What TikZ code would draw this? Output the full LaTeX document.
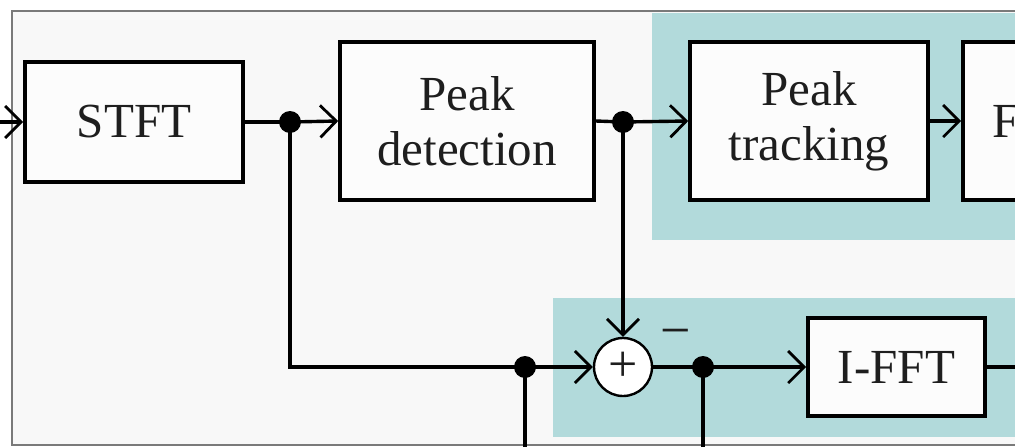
\documentclass[tikz,border=0pt]{standalone}
\usepackage{fontspec}
\setmainfont{Liberation Serif}
\usetikzlibrary{arrows.meta,calc}
\definecolor{panel}{HTML}{F8F8F8}
\definecolor{stage}{HTML}{B2DADB}
\definecolor{frame}{HTML}{7A7A7A}
\definecolor{ink}{HTML}{1E1E1E}
\tikzset{
  blk/.style={draw=black, line width=3.6pt, fill=white!60!panel, text=ink,
    font=\fontsize{49}{55}\selectfont, align=center, inner sep=0pt},
  flow/.style={line width=3.4pt, draw=black},
  arr/.style={flow, -{Straight Barb[length=16pt,width=32pt,line width=2.8pt]}},
  junction/.style={circle, fill=black, inner sep=0pt, minimum size=22pt},
  adder/.style={circle, draw=black, line width=2.4pt, fill=white, minimum size=58pt,
    inner sep=0pt, text=ink, font=\fontsize{52}{52}\selectfont},
}
\begin{document}
\begin{tikzpicture}[x=1pt, y=-1pt]
  \useasboundingbox (0,0) rectangle (1015,447);
  \clip (0,0) rectangle (1015,447);

  % sheet and frame
  \fill[white] (0,0) rectangle (1015,447);
  \fill[panel] (12,11) rectangle (1030,445);
  \draw[frame, line width=1.6pt] (1030,11) -- (12,11) -- (12,445) -- (1030,445);

  % shaded stages
  \fill[stage] (652,13) rectangle (1030,240);
  \fill[stage] (553,298) rectangle (1030,437);

  % processing blocks
  \node[blk, minimum width=218pt, minimum height=120pt] (stft) at (134,122) {STFT};
  \node[blk, minimum width=254pt, minimum height=158pt] (pd) at (467,121) {Peak\\detection};
  \node[blk, minimum width=238pt, minimum height=158pt] (pt) at (809,121) {Peak\\tracking};
  \node[blk, minimum width=200pt, minimum height=158pt] (fb) at (1063,121) {};
  \node[text=ink, font=\fontsize{49}{55}\selectfont, anchor=west, inner sep=0pt]
    (fbtext) at ([xshift=31pt]fb.west) {F};
  \node[blk, minimum width=177pt, minimum height=98pt] (ifft) at (896.5,367) {I-FFT};

  % adder and its sign
  \node[adder] (sum) at (623,367) {+};
  \node[text=ink, font=\fontsize{54}{54}\selectfont, inner sep=0pt] (minus) at (676,339) {−};

  % junctions
  \node[junction] (j1) at (290,122) {};
  \node[junction] (j2) at (623,122) {};
  \node[junction] (j3) at (525,367) {};
  \node[junction] (j4) at (703,367) {};

  % free ends
  \coordinate (src) at (-30,122);
  \coordinate (j3out) at (525,460);
  \coordinate (j4out) at (703,460);
  \coordinate (ifftout) at (1030,367);

  % connectors
  \draw[arr] (src) -- (stft.west);
  \draw[flow] (stft.east) -- (j1.center);
  \draw[arr] (j1.center) -- (pd.west);
  \draw[flow] (pd.east) -- (j2.center);
  \draw[arr] (j2.center) -- (pt.west);
  \draw[arr] (pt.east) -- (fb.west);
  \draw[arr] (j1.center) |- (sum.west);
  \draw[arr] (j2.center) -- (sum.north);
  \draw[flow] (sum.east) -- (j4.center);
  \draw[arr] (j4.center) -- (ifft.west);
  \draw[flow] (j3.center) -- (j3out);
  \draw[flow] (j4.center) -- (j4out);
  \draw[flow] (ifft.east) -- (ifftout);
\end{tikzpicture}
\end{document}
